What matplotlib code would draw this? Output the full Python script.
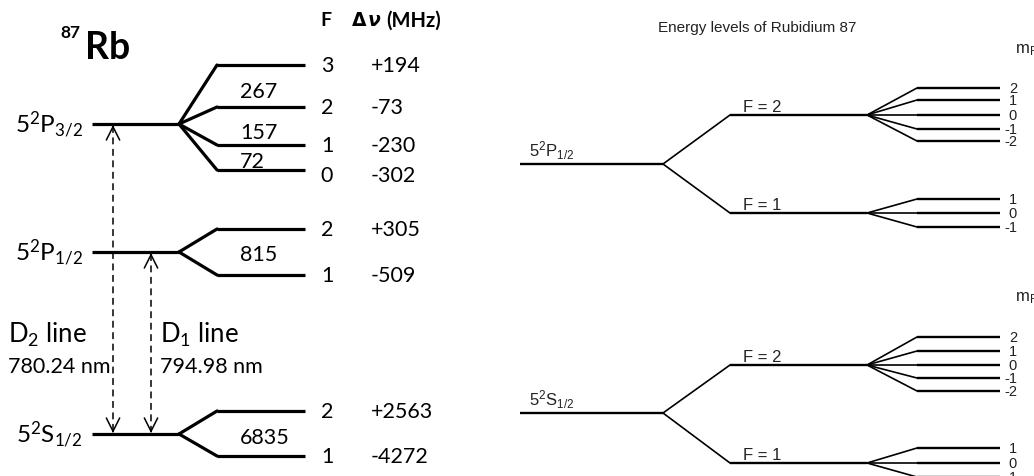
import matplotlib.pyplot as plt

# 87Rb hyperfine structure (left diagram)
p32_F = ['3', '2', '1', '0']
p32_shift = ['+194', '-73', '-230', '-302']
p32_gaps = ['267', '157', '72']
p12_F = ['2', '1']
p12_shift = ['+305', '-509']
p12_gaps = ['815']
s12_F = ['2', '1']
s12_shift = ['+2563', '-4272']
s12_gaps = ['6835']

# Zeeman sublevels (right diagram)
mF_F2 = ['2', '1', '0', '-1', '-2']
mF_F1 = ['1', '0', '-1']

LEFT_FONT = ['Lato', 'DejaVu Sans']
RIGHT_FONT = ['Liberation Sans', 'DejaVu Sans']

fig = plt.figure(figsize=(10.34, 4.77), dpi=100)
ax = fig.add_axes([0, 0, 1, 1])
ax.set_xlim(0, 1034)
ax.set_ylim(477, 0)
ax.axis('off')


def fan(base_y, sub_ys, x0, x1, x2, x3, lw, lw_fan):
    """Base level from x0 to x1, fanning out to sub levels at x2, running to x3."""
    if x0 is not None:
        ax.plot([x0, x1], [base_y, base_y], color='black', lw=lw, solid_capstyle='butt')
    for y in sub_ys:
        ax.plot([x1, x2], [base_y, y], color='black', lw=lw_fan, solid_capstyle='round')
        ax.plot([x2, x3], [y, y], color='black', lw=lw, solid_capstyle='butt')


# ---------------- left: level scheme ----------------
left_levels = [
    # label, base y, sub level ys, F, shifts, gaps, gap ys
    (r'$\mathregular{5^2P_{3/2}}$', 125, [66, 108, 146, 171], p32_F, p32_shift, p32_gaps, [92, 133, 162]),
    (r'$\mathregular{5^2P_{1/2}}$', 253, [230, 276], p12_F, p12_shift, p12_gaps, [255]),
    (r'$\mathregular{5^2S_{1/2}}$', 435, [412, 457], s12_F, s12_shift, s12_gaps, [438]),
]

NUM_FS = 15.5

for label, base, subs, Fs, shifts, gaps, gap_ys in left_levels:
    fan(base, subs, 92, 179, 217, 305, 2.3, 2.3)
    ax.text(83, base + 8, label, ha='right', va='baseline', fontsize=17.5, family=LEFT_FONT)
    for y, F, s in zip(subs, Fs, shifts):
        dy = 5 if F == '0' else 0
        ax.text(327, y + dy, F, ha='center', va='center', fontsize=NUM_FS, family=LEFT_FONT)
        ax.text(371, y + dy, s, ha='left', va='center', fontsize=NUM_FS, family=LEFT_FONT)
    for y, g in zip(gap_ys, gaps):
        ax.text(240, y, g, ha='left', va='center', fontsize=NUM_FS, family=LEFT_FONT)

# title and header
ax.text(60, 38, '87', ha='left', va='baseline', fontsize=12.5, fontweight='bold', family=LEFT_FONT)
ax.text(85, 59, 'Rb', ha='left', va='baseline', fontsize=27, fontweight='bold', family=LEFT_FONT)
ax.text(326, 21, 'F', ha='center', va='center', fontsize=14, fontweight='bold', family=LEFT_FONT)
ax.text(352, 21, 'Δ', ha='left', va='center', fontsize=13.5, fontweight='bold', family=['DejaVu Sans'])
ax.text(368, 21, 'ν', ha='left', va='center', fontsize=13.5, fontweight='bold', fontstyle='italic',
        family=['DejaVu Sans'])
ax.text(386, 21, '(MHz)', ha='left', va='center', fontsize=14.5, fontweight='bold', family=LEFT_FONT)

# dashed transition arrows
for x, top in [(113, 125), (151, 253)]:
    ax.plot([x, x], [top + 2, 433], color='black', lw=1.1, ls=(0, (4.5, 3)))
    for tip, tail in [(top + 1, top + 3), (434, 432)]:
        ax.annotate('', xy=(x, tip), xytext=(x, tail),
                    arrowprops=dict(arrowstyle='->', lw=1.1, color='black',
                                    shrinkA=0, shrinkB=0, mutation_scale=24))

ax.text(8, 343, r'$\mathregular{D_2}$ line', ha='left', va='baseline', fontsize=18.5, family=LEFT_FONT)
ax.text(8, 373, '780.24 nm', ha='left', va='baseline', fontsize=15.5, family=LEFT_FONT)
ax.text(160, 343, r'$\mathregular{D_1}$ line', ha='left', va='baseline', fontsize=18.5, family=LEFT_FONT)
ax.text(160, 373, '794.98 nm', ha='left', va='baseline', fontsize=15.5, family=LEFT_FONT)

# ---------------- right: Zeeman sublevels ----------------
ax.text(757, 28, 'Energy levels of Rubidium 87', ha='center', va='center', fontsize=11,
        color='#222222', family=RIGHT_FONT)

right_groups = [
    # label, base y, F=2 y, F=1 y, F=2 sublevels, F=1 sublevels, mF header y
    (r'$\mathregular{5^2P_{1/2}}$', 165, 116, 214, [89, 101, 116, 130, 142], [200, 214, 228], 50),
    (r'$\mathregular{5^2S_{1/2}}$', 414, 366, 464, [338, 352, 366, 379, 392], [449, 464, 478], 298),
]

for label, base, yF2, yF1, m2, m1, yhead in right_groups:
    fan(base, [yF2, yF1], 520, 663, 730, 867, 1.7, 1.2)
    fan(yF2, m2, None, 867, 917, 1000, 1.7, 1.2)
    fan(yF1, m1, None, 867, 917, 1000, 1.7, 1.2)
    ax.text(529, base - 8, label, ha='left', va='baseline', fontsize=12, color='#222222',
            family=RIGHT_FONT)
    ax.text(743, yF2 - 4, 'F = 2', ha='left', va='baseline', fontsize=12, color='#222222',
            family=RIGHT_FONT)
    ax.text(743, yF1 - 4, 'F = 1', ha='left', va='baseline', fontsize=12, color='#222222',
            family=RIGHT_FONT)
    for y, m in zip(m2, mF_F2):
        ax.text(1017, y, m, ha='right', va='center', fontsize=10.5, color='#222222', family=RIGHT_FONT)
    for y, m in zip(m1, mF_F1):
        ax.text(1017, y, m, ha='right', va='center', fontsize=10.5, color='#222222', family=RIGHT_FONT)
    ax.text(1015, yhead, r'$\mathregular{m_F}$', ha='left', va='center', fontsize=12,
            color='#222222', family=RIGHT_FONT)

fig.savefig('out.png', dpi=100)
